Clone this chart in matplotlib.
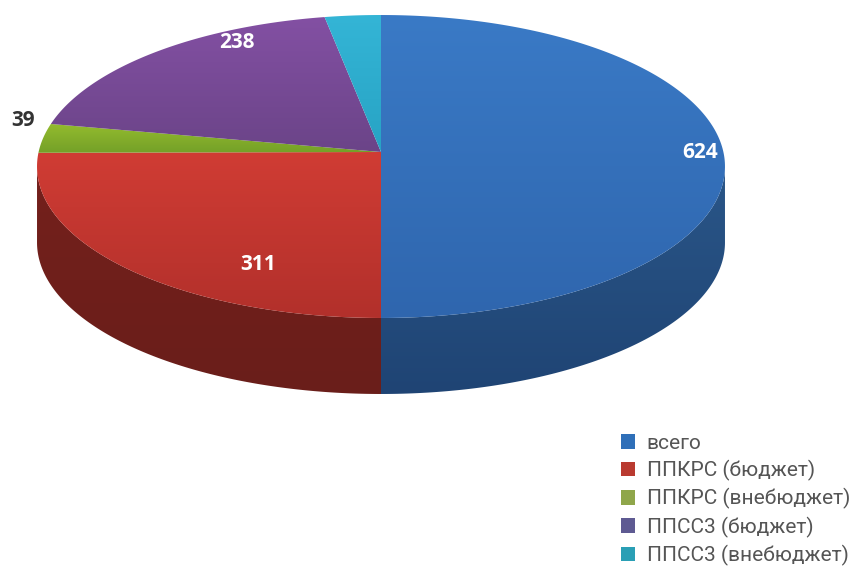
import numpy as np
import matplotlib
matplotlib.use('Agg')
import matplotlib.pyplot as plt
from matplotlib.colors import LinearSegmentedColormap
from matplotlib.patches import Patch, Polygon

# Data (last slice has no label, it is the remainder)
categories = ['всего', 'ППКРС (бюджет)', 'ППКРС (внебюджет)', 'ППСС3 (бюджет)', 'ППСС3 (внебюджет)']
values = [624, 311, 39, 238, 36]
top_light = ['#3a7ac6', '#d03c34', '#93bb2e', '#8350a3', '#34b5d6']
top_dark = ['#2f66ae', '#b2302b', '#74a028', '#6b4488', '#27a3c4']
side_light = ['#2a5688', '#74201c']
side_dark = ['#1f4474', '#6a1e1a']
legend_colors = ['#2f6fb8', '#b93a30', '#8fa64a', '#5e5a92', '#2a9fb5']

# pie geometry in pixels, with a little perspective
cx, cy = 381, 152
a, b, k = 150.1, 342.4, 0.0957
depth = 76


def project(deg):
    t = np.radians(deg)
    w = 1 + k * np.sin(t)
    return cx + b * np.cos(t) / w, cy - a * np.sin(t) / w


def gradient_fill(ax, poly_xy, c1, c2, extent=None):
    # draw a vertical gradient image clipped to a polygon
    cmap = LinearSegmentedColormap.from_list('g', [c1, c2])
    grad = np.linspace(0, 1, 256).reshape(-1, 1)
    x0, y0 = poly_xy.min(axis=0)
    x1, y1 = poly_xy.max(axis=0)
    if extent is not None:
        y0, y1 = extent
    im = ax.imshow(grad, cmap=cmap, extent=(x0, x1, y1, y0), aspect='auto', zorder=2)
    patch = Polygon(poly_xy, closed=True, transform=ax.transData, fc='none', ec='none')
    ax.add_patch(patch)
    im.set_clip_path(patch)


def main():
    fig = plt.figure(figsize=(8.52, 5.67), dpi=100)
    ax = fig.add_axes([0, 0, 1, 1])
    plt.rcParams['font.family'] = ['Roboto', 'DejaVu Sans']

    # slices go clockwise from the top
    angles = 90 - np.cumsum([0] + values) / sum(values) * 360

    # side walls of the two front slices
    edge = np.degrees(np.arcsin(k))
    wall_ranges = [(-90, -edge), (-180 + edge, -90)]
    for i, (t0, t1) in enumerate(wall_ranges):
        tt = np.linspace(t0, t1, 200)
        x, y = project(tt)
        poly = np.column_stack([np.r_[x, x[::-1]], np.r_[y, y[::-1] + depth]])
        gradient_fill(ax, poly, side_light[i], side_dark[i])

    # top faces, the gradient runs over the whole height of the pie
    for i in range(len(values)):
        tt = np.linspace(angles[i], angles[i + 1], 200)
        x, y = project(tt)
        poly = np.column_stack([np.r_[cx, x], np.r_[cy, y]])
        gradient_fill(ax, poly, top_light[i], top_dark[i], extent=(poly[:, 1].min(), poly[:, 1].max()))

    # data labels
    label_font = dict(fontsize=15, fontweight='bold', ha='center', va='center', family=['Open Sans', 'DejaVu Sans'])
    ax.text(700, 152, str(values[0]), color='white', **label_font)
    ax.text(258, 264, str(values[1]), color='white', **label_font)
    ax.text(23, 121, str(values[2]), color='#333333', **label_font)
    ax.text(237, 43, str(values[3]), color='white', **label_font)

    handles = [Patch(fc=c, ec='none') for c in legend_colors]
    ax.legend(handles, categories, loc='lower right', bbox_to_anchor=(1.0, -0.002), frameon=False,
              fontsize=15, labelcolor='#555555', handlelength=0.7, handleheight=0.7,
              handletextpad=0.55, labelspacing=0.35, borderpad=0, borderaxespad=0.1)

    ax.set_xlim(0, 852)
    ax.set_ylim(567, 0)
    ax.axis('off')
    fig.savefig('out.png', dpi=100)


if __name__ == "__main__":
    main()
